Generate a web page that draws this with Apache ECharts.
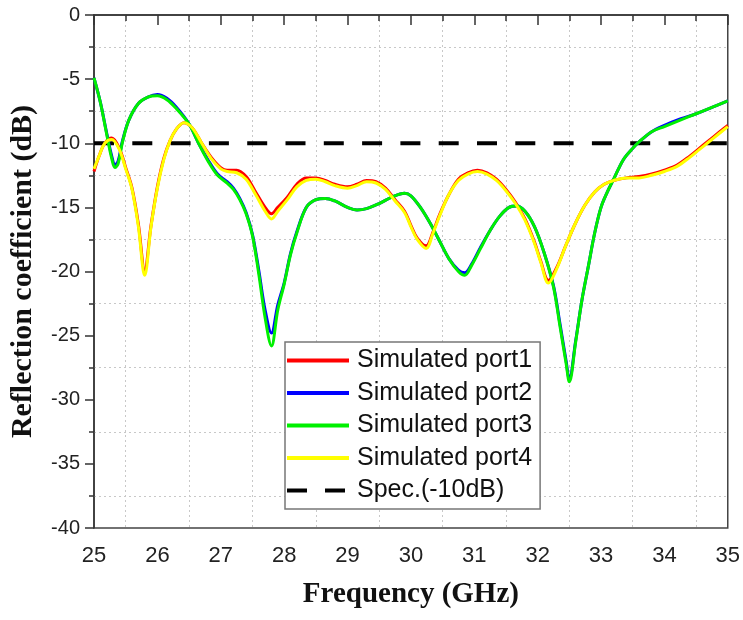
<!DOCTYPE html>
<html>
<head>
<meta charset="utf-8">
<script src="https://cdn.jsdelivr.net/npm/echarts@6/dist/echarts.min.js"></script>
<style>
html,body{margin:0;padding:0;background:#fff;}
#chart{width:743px;height:620px;}
</style>
</head>
<body>
<div id="chart"></div>
<script>
// Series data: [frequency GHz, reflection coefficient dB]
const seriesNames = ['Simulated port1', 'Simulated port2', 'Simulated port3', 'Simulated port4', 'Spec.(-10dB)'];

const port1 = [[25.0,-12.2],[25.08,-11.0],[25.17,-10.0],[25.28,-9.6],[25.4,-10.4],[25.5,-11.9],[25.6,-13.5],[25.7,-16.3],[25.8,-19.9],[25.9,-16.4],[26.0,-13.4],[26.1,-11.2],[26.2,-9.8],[26.3,-8.9],[26.42,-8.4],[26.55,-8.8],[26.7,-10.0],[26.85,-11.1],[27.0,-11.9],[27.1,-12.1],[27.25,-12.1],[27.4,-12.6],[27.55,-13.8],[27.7,-15.0],[27.8,-15.5],[27.9,-15.0],[28.05,-14.2],[28.2,-13.2],[28.35,-12.7],[28.5,-12.7],[28.65,-12.9],[28.8,-13.2],[29.0,-13.4],[29.15,-13.2],[29.3,-12.9],[29.45,-13.0],[29.6,-13.5],[29.75,-14.4],[29.9,-15.3],[30.0,-16.4],[30.1,-17.4],[30.24,-18.0],[30.35,-16.9],[30.45,-15.6],[30.6,-14.0],[30.75,-12.8],[30.9,-12.3],[31.05,-12.1],[31.2,-12.3],[31.35,-12.8],[31.5,-13.6],[31.65,-14.6],[31.8,-15.9],[31.95,-17.7],[32.05,-19.2],[32.17,-20.7],[32.3,-19.7],[32.45,-17.9],[32.6,-16.2],[32.75,-14.8],[32.9,-13.8],[33.05,-13.2],[33.2,-12.9],[33.4,-12.7],[33.6,-12.6],[33.8,-12.4],[34.0,-12.1],[34.2,-11.7],[34.4,-11.0],[34.55,-10.4],[34.7,-9.8],[34.85,-9.2],[35.0,-8.6]];

const port2 = [[25.0,-4.9],[25.1,-6.8],[25.2,-9.2],[25.28,-11.0],[25.33,-11.7],[25.38,-11.4],[25.45,-9.8],[25.55,-8.2],[25.7,-6.9],[25.85,-6.4],[26.0,-6.2],[26.15,-6.5],[26.3,-7.2],[26.5,-8.5],[26.65,-10.0],[26.8,-11.3],[26.95,-12.4],[27.1,-13.0],[27.2,-13.5],[27.3,-14.3],[27.4,-15.4],[27.5,-17.1],[27.6,-19.9],[27.7,-23.0],[27.8,-24.8],[27.9,-22.6],[28.0,-20.9],[28.1,-18.6],[28.2,-16.9],[28.35,-15.0],[28.5,-14.4],[28.65,-14.3],[28.8,-14.5],[29.0,-15.0],[29.15,-15.2],[29.3,-15.1],[29.5,-14.7],[29.7,-14.2],[29.9,-13.9],[30.0,-14.1],[30.15,-15.0],[30.3,-16.2],[30.45,-17.6],[30.6,-19.0],[30.75,-19.9],[30.85,-20.1],[30.95,-19.5],[31.1,-18.1],[31.25,-16.8],[31.4,-15.7],[31.55,-15.0],[31.67,-14.9],[31.8,-15.3],[31.95,-16.5],[32.1,-18.5],[32.25,-21.1],[32.35,-24.0],[32.45,-27.0],[32.5,-28.4],[32.6,-25.4],[32.7,-22.2],[32.8,-19.6],[32.9,-17.0],[33.0,-15.0],[33.1,-13.8],[33.2,-12.8],[33.35,-11.3],[33.5,-10.4],[33.6,-9.9],[33.8,-9.1],[34.0,-8.6],[34.25,-8.1],[34.5,-7.7],[34.75,-7.2],[35.0,-6.7]];

const port3 = [[25.0,-4.9],[25.1,-6.8],[25.2,-9.3],[25.28,-11.2],[25.33,-11.9],[25.38,-11.6],[25.45,-9.9],[25.55,-8.2],[25.7,-6.9],[25.85,-6.4],[26.0,-6.3],[26.15,-6.6],[26.3,-7.3],[26.5,-8.5],[26.65,-10.0],[26.8,-11.4],[26.95,-12.5],[27.1,-13.1],[27.2,-13.6],[27.3,-14.4],[27.4,-15.5],[27.5,-17.2],[27.6,-20.2],[27.7,-23.6],[27.8,-25.8],[27.9,-23.0],[28.0,-21.0],[28.1,-18.7],[28.2,-17.0],[28.35,-15.0],[28.5,-14.4],[28.65,-14.3],[28.8,-14.5],[29.0,-15.0],[29.15,-15.2],[29.3,-15.1],[29.5,-14.7],[29.7,-14.2],[29.9,-13.9],[30.0,-14.1],[30.15,-15.0],[30.3,-16.2],[30.45,-17.6],[30.6,-19.0],[30.75,-20.0],[30.85,-20.3],[30.95,-19.6],[31.1,-18.2],[31.25,-16.8],[31.4,-15.7],[31.55,-15.0],[31.67,-14.9],[31.8,-15.3],[31.95,-16.5],[32.1,-18.5],[32.25,-21.2],[32.35,-24.2],[32.45,-27.2],[32.5,-28.6],[32.6,-25.5],[32.7,-22.2],[32.8,-19.6],[32.9,-17.0],[33.0,-15.0],[33.1,-13.8],[33.2,-12.8],[33.35,-11.3],[33.5,-10.4],[33.6,-9.9],[33.8,-9.1],[34.0,-8.7],[34.25,-8.2],[34.5,-7.7],[34.75,-7.2],[35.0,-6.7]];

const port4 = [[25.0,-12.0],[25.08,-11.0],[25.17,-10.0],[25.28,-9.7],[25.4,-10.5],[25.5,-12.0],[25.6,-13.6],[25.7,-16.5],[25.8,-20.3],[25.9,-16.5],[26.0,-13.5],[26.1,-11.3],[26.2,-9.8],[26.3,-8.9],[26.42,-8.4],[26.55,-8.8],[26.7,-10.0],[26.85,-11.2],[27.0,-12.0],[27.1,-12.2],[27.25,-12.3],[27.4,-12.8],[27.55,-14.0],[27.7,-15.3],[27.8,-15.9],[27.9,-15.3],[28.05,-14.4],[28.2,-13.4],[28.35,-12.9],[28.5,-12.8],[28.65,-13.0],[28.8,-13.3],[29.0,-13.5],[29.15,-13.3],[29.3,-13.0],[29.45,-13.1],[29.6,-13.6],[29.75,-14.5],[29.9,-15.4],[30.0,-16.5],[30.1,-17.5],[30.24,-18.2],[30.35,-17.0],[30.45,-15.7],[30.6,-14.0],[30.75,-12.9],[30.9,-12.4],[31.05,-12.2],[31.2,-12.4],[31.35,-12.9],[31.5,-13.7],[31.65,-14.7],[31.8,-16.0],[31.95,-17.8],[32.05,-19.3],[32.17,-20.9],[32.3,-19.8],[32.45,-17.9],[32.6,-16.2],[32.75,-14.8],[32.9,-13.8],[33.05,-13.2],[33.2,-12.9],[33.4,-12.7],[33.6,-12.7],[33.8,-12.5],[34.0,-12.2],[34.2,-11.8],[34.4,-11.1],[34.55,-10.5],[34.7,-9.9],[34.85,-9.3],[35.0,-8.7]];

const spec = [[25,-10],[35,-10]];

const xTicks = {min: 25, max: 35, interval: 1};
const yTicks = {min: -40, max: 0, interval: 5};

const colors = ['#ff0000', '#0000ff', '#00f000', '#ffff00', '#000000'];
const datasets = [port1, port2, port3, port4, spec];

const chart = echarts.init(document.getElementById('chart'), null, {renderer: 'canvas'});

const series = datasets.map((d, i) => {
  const isSpec = i === 4;
  return {
    name: seriesNames[i],
    type: 'line',
    data: d,
    symbol: 'none',
    smooth: isSpec ? false : 0.35,
    z: isSpec ? 1 : 2 + i,
    lineStyle: {
      color: colors[i],
      width: isSpec ? 4 : 3,
      type: isSpec ? [20, 18.3] : 'solid'
    },
    itemStyle: {color: colors[i]},
    emphasis: {disabled: true}
  };
});

const solidIcon = 'path://M0,0L62,0L62,4L0,4Z';
const dashIcon = 'path://M0,0L20,0L20,4L0,4ZM38,0L58,0L58,4L38,4ZM61.9,0L62,0L62,0.01L61.9,0.01Z';

const axisColor = '#333';

const option = {
  animation: false,
  backgroundColor: '#ffffff',
  grid: {
    left: 92, right: 12, top: 15, bottom: 92,
    show: true, borderColor: '#444', borderWidth: 1.5, backgroundColor: 'transparent'
  },
  legend: {
    data: seriesNames.map((n, i) => ({name: n, icon: i === 4 ? dashIcon : solidIcon})),
    orient: 'vertical',
    left: 285, top: 342,
    padding: [6, 8, 6, 2],
    itemWidth: 62, itemHeight: 4,
    itemGap: 7.5,
    backgroundColor: '#fff',
    borderColor: '#777', borderWidth: 1.5,
    textStyle: {fontFamily: 'Liberation Sans', fontSize: 25, lineHeight: 24, color: '#111', padding: [0, 0, 0, 3]}
  },
  xAxis: {
    type: 'value',
    min: xTicks.min, max: xTicks.max, interval: xTicks.interval,
    name: 'Frequency (GHz)',
    nameLocation: 'middle',
    nameGap: 52,
    nameTextStyle: {fontFamily: 'Liberation Serif', fontWeight: 'bold', fontSize: 29, color: '#111'},
    axisLine: {show: true, lineStyle: {color: axisColor, width: 1.5}},
    axisTick: {show: true, length: 10, lineStyle: {color: axisColor, width: 1.5}},
    minorTick: {show: true, splitNumber: 2, length: 6, lineStyle: {color: axisColor, width: 1.5}},
    splitLine: {show: false},
    minorSplitLine: {show: true, lineStyle: {color: '#c8c8c8', type: [2, 3], width: 1}},
    axisLabel: {fontFamily: 'Liberation Sans', fontSize: 22, color: '#222', margin: 17}
  },
  yAxis: {
    type: 'value',
    min: yTicks.min, max: yTicks.max, interval: yTicks.interval,
    name: 'Reflection coefficient (dB)',
    nameLocation: 'middle',
    nameGap: 56,
    nameRotate: 90,
    nameTextStyle: {fontFamily: 'Liberation Serif', fontWeight: 'bold', fontSize: 30, color: '#111'},
    axisLine: {show: true, lineStyle: {color: axisColor, width: 1.5}},
    axisTick: {show: true, length: 9, lineStyle: {color: axisColor, width: 1.5}},
    minorTick: {show: true, splitNumber: 2, length: 5, lineStyle: {color: axisColor, width: 1.5}},
    splitLine: {show: false},
    minorSplitLine: {show: true, lineStyle: {color: '#c8c8c8', type: [2, 3], width: 1}},
    axisLabel: {fontFamily: 'Liberation Sans', fontSize: 20, color: '#222', margin: 14}
  },
  series: series
};

chart.setOption(option);
</script>
</body>
</html>
